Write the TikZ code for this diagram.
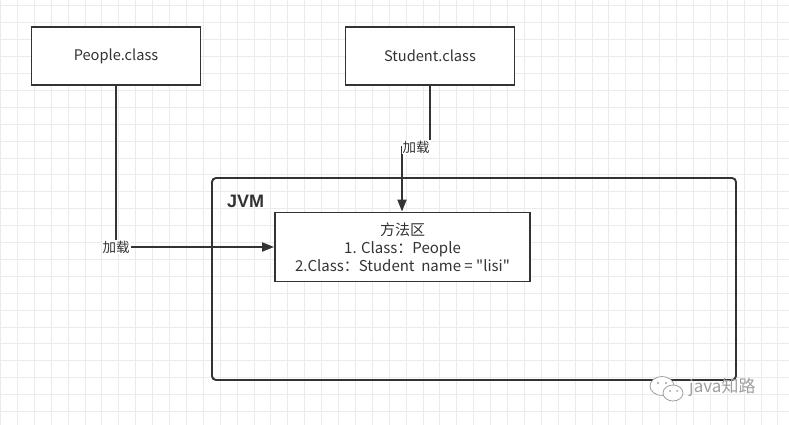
\documentclass[tikz,border=0pt]{standalone}
\usepackage{fontspec}
\setmainfont{Noto Sans CJK SC}[Ligatures=TeXOff]
\newfontfamily\latinsans{Liberation Sans}
\usetikzlibrary{arrows.meta}
\definecolor{ink}{HTML}{333333}
\definecolor{gridc}{HTML}{EBEBEB}
\definecolor{wm}{HTML}{A0A0A0}
\begin{document}
\begin{tikzpicture}[x=1pt,y=-1pt,
  box/.style={draw=ink,line width=1.9pt,fill=white,inner sep=0pt,text=ink,font=\fontsize{14.6}{18}\selectfont},
  conn/.style={draw=ink,line width=1.9pt,-{Triangle[length=12pt,width=9pt]}},
  lbl/.style={fill=white,inner sep=1pt,text=ink,font=\fontsize{13.5}{16}\selectfont}]
\useasboundingbox (0,0) rectangle (789,425);
\fill[white] (0,0) rectangle (789,425);
\foreach \i in {0,...,46} \draw[gridc,line width=0.8pt] ({0.4+\i*16.9},0) -- ++(0,425);
\foreach \j in {0,...,25} \draw[gridc,line width=0.8pt] (0,{5.8+\j*16.9}) -- ++(789,0);

\node[box,minimum width=169pt,minimum height=58pt] (people) at (116,56) {People.class};
\node[box,minimum width=169pt,minimum height=58pt] (student) at (430,56) {Student.class};
\node[draw=ink,line width=1.9pt,rounded corners=4pt,minimum width=524pt,minimum height=202pt] (jvm) at (474,279) {};
\node[anchor=west,text=ink,inner sep=0pt,font=\latinsans\bfseries\fontsize{18}{20}\selectfont] (jvmlabel) at (227,201.5) {JVM};
\node[box,minimum width=255pt,minimum height=69pt,align=center,font=\fontsize{15}{18}\selectfont] (method) at (402.5,247)
  {方法区\\1. Class：People\\2.Class：Student\ \ name = "lisi"};

\draw[conn] (people.south) |- node[lbl] (lblA) {加载} (method.west);
\coordinate (sj) at (430,147);
\coordinate (sk) at (402,147);
\draw[conn] (student.south) -- (sj) -- node[lbl] (lblB) {加载} (sk) -- (sk |- method.north);

% watermark
\draw[wm,fill=white,line width=0.8pt] (662,386) ellipse (12 and 9.5);
\draw[wm,fill=white,line width=0.8pt] (673,393) ellipse (10 and 8);
\fill[wm] (658,383) circle (1.1) (666,383) circle (1.1) (670,391) circle (1) (677,391) circle (1);
\node[anchor=west,text=wm,inner sep=0pt,font=\fontsize{17}{20}\selectfont] (wmtext) at (689,387) {java知路};
\end{tikzpicture}
\end{document}
